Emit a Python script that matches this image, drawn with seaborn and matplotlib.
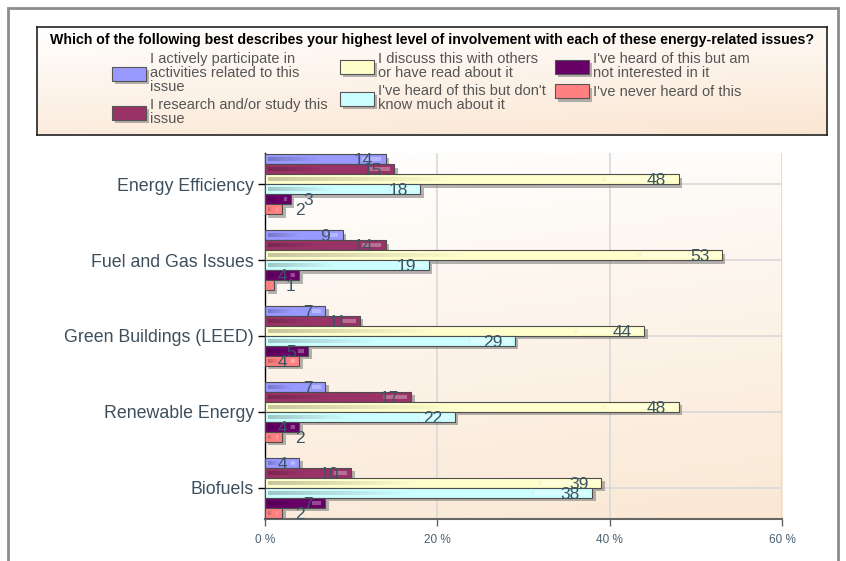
import matplotlib
matplotlib.use("Agg")
import matplotlib.pyplot as plt
import matplotlib.patheffects as pe
import numpy as np
import pandas as pd
import seaborn as sns
from matplotlib.colors import LinearSegmentedColormap, to_rgb
from matplotlib.patches import Rectangle

ISSUES = ["Energy Efficiency", "Fuel and Gas Issues", "Green Buildings (LEED)",
          "Renewable Energy", "Biofuels"]
LEVELS = [
    "I actively participate in\nactivities related to this\nissue",
    "I research and/or study this\nissue",
    "I discuss this with others\nor have read about it",
    "I've heard of this but don't\nknow much about it",
    "I've heard of this but am\nnot interested in it",
    "I've never heard of this",
]
ACTIVE = [14, 9, 7, 7, 4]
RESEARCH = [15, 14, 11, 17, 10]
DISCUSS = [48, 53, 44, 48, 39]
HEARD_LITTLE = [18, 19, 29, 22, 38]
NOT_INTERESTED = [3, 4, 5, 4, 7]
NEVER_HEARD = [2, 1, 4, 2, 2]
X_TICKS = [0, 20, 40, 60]
TITLE = ("Which of the following best describes your highest level of involvement "
         "with each of these energy-related issues?")

COLORS = ["#9999ff", "#993366", "#ffffcc", "#ccffff", "#660066", "#ff8080"]

series = [ACTIVE, RESEARCH, DISCUSS, HEARD_LITTLE, NOT_INTERESTED, NEVER_HEARD]
rows = []
for level, values in zip(LEVELS, series):
    for issue, v in zip(ISSUES, values):
        rows.append({"issue": issue, "level": level, "pct": v})
df = pd.DataFrame(rows)

sns.set_theme(style="white")
plt.rcParams["font.family"] = ["Liberation Sans", "DejaVu Sans"]

W, H = 846, 561
fig = plt.figure(figsize=(W / 100, H / 100), dpi=100)
fig.patch.set_facecolor("white")

# outer frame
fig.patches.append(Rectangle((8 / W, -0.05), 830 / W, 1.05 - 8 / H, transform=fig.transFigure,
                             fill=False, edgecolor="#8c8c8c", linewidth=2))

# legend box with gradient
lax = fig.add_axes([37 / W, 1 - 135 / H, 790 / W, 108 / H])
leg_cmap = LinearSegmentedColormap.from_list("leg", ["#ffffff", "#fbe6d2"])
gy, gx = np.mgrid[0:1:100j, 0:1:200j]
lax.imshow(0.75 * gy + 0.25 * gx, cmap=leg_cmap, aspect="auto", extent=[0, 1, 0, 1])
lax.set_xticks([])
lax.set_yticks([])
for s in lax.spines.values():
    s.set_color("#222222")
    s.set_linewidth(1.2)

# plot area
ax = fig.add_axes([265 / W, 1 - 519 / H, 517 / W, 366 / H])
bg_cmap = LinearSegmentedColormap.from_list("bg", ["#ffffff", "#fae8d4"])
ax.imshow(0.85 * gy + 0.15 * gx, cmap=bg_cmap, aspect="auto", extent=[0, 1, 0, 1],
          transform=ax.transAxes, zorder=0)

sns.barplot(data=df, y="issue", x="pct", hue="level", orient="h", palette=COLORS,
            width=0.79, dodge=True, edgecolor="#4d4d4d", linewidth=0.8,
            saturation=1, ax=ax, zorder=3)

shadow = [pe.SimplePatchShadow(offset=(2.5, -2.5), shadow_rgbFace="#777777", alpha=0.55),
          pe.Normal()]
label_style = dict(textcoords="offset points", va="center", fontsize=12.5,
                   color="#3b5564", zorder=6)
for cont, col in zip(ax.containers, COLORS):
    base = np.array(to_rgb(col))
    for bar in cont:
        bar.set_path_effects(shadow)
        x0, v = bar.get_x(), bar.get_width()
        yc = bar.get_y() + bar.get_height() / 2
        hh = abs(bar.get_height())
        # glossy stripe inside the bar: darker on the left, light spot at the end
        t = np.linspace(0, 1, 64)
        img = np.zeros((1, 64, 4))
        img[0, :, :3] = base * 0.6
        img[0, :, 3] = np.clip(0.55 * (1 - t / 0.45), 0, None)
        spot = t > 0.84
        img[0, spot, :3] = 1.0
        img[0, spot, 3] = 0.3
        ax.imshow(img, aspect="auto", zorder=4, interpolation="bilinear",
                  extent=[x0 + 0.4, x0 + v - 0.5, yc - hh * 0.18, yc + hh * 0.18])
        if v < 4:
            ax.annotate(f"{v:.0f}", (v, yc), xytext=(9, -1), ha="left", **label_style)
        else:
            ax.annotate(f"{v:.0f}", (v, yc), xytext=(-9, -1), ha="right", **label_style)

handles = ax.get_legend().legend_handles
ax.get_legend().remove()
for h in handles:
    h.set_edgecolor("#555555")
    h.set_linewidth(0.8)
    h.set_path_effects(shadow)

fig.text(432 / W, 1 - 40 / H, TITLE, ha="center", va="center", fontsize=10.2,
         fontweight="bold", color="black")

# three legend columns, each aligned at the top like the original
for i, left in enumerate([112, 340, 555]):
    leg = fig.legend(handles[2 * i:2 * i + 2], LEVELS[2 * i:2 * i + 2], loc="upper left",
                     bbox_to_anchor=(left / W, 1 - 52 / H), borderpad=0, borderaxespad=0,
                     frameon=False, prop={"size": 10.5}, labelcolor="#555555",
                     handlelength=2.3, handleheight=1.1, handletextpad=0.3,
                     labelspacing=0.3)
    for txt in leg.get_texts():
        txt.set_linespacing(1.0)

ax.set_xlim(0, 60)
ax.set_ylim(4.41, -0.41)
ax.set_xticks(X_TICKS)
ax.set_xticklabels([f"{t} %" for t in X_TICKS], fontsize=8.5, color="#4a6070")
ax.tick_params(axis="y", labelsize=12.8, labelcolor="#3d4f5c", length=5, width=1,
               color="black", left=True, direction="out", pad=3)
ax.tick_params(axis="x", length=5, width=1, color="#666666", bottom=True, direction="out", pad=6)
ax.set_xlabel("")
ax.set_ylabel("")
ax.grid(True, color="#d9d9d9", linewidth=1.2, zorder=1)
ax.set_axisbelow(True)
for name in ["top", "right"]:
    ax.spines[name].set_visible(False)
ax.spines["left"].set_color("black")
ax.spines["left"].set_linewidth(1)
ax.spines["bottom"].set_color("#666666")
ax.spines["bottom"].set_linewidth(1.5)

fig.savefig("out.png", dpi=100)
